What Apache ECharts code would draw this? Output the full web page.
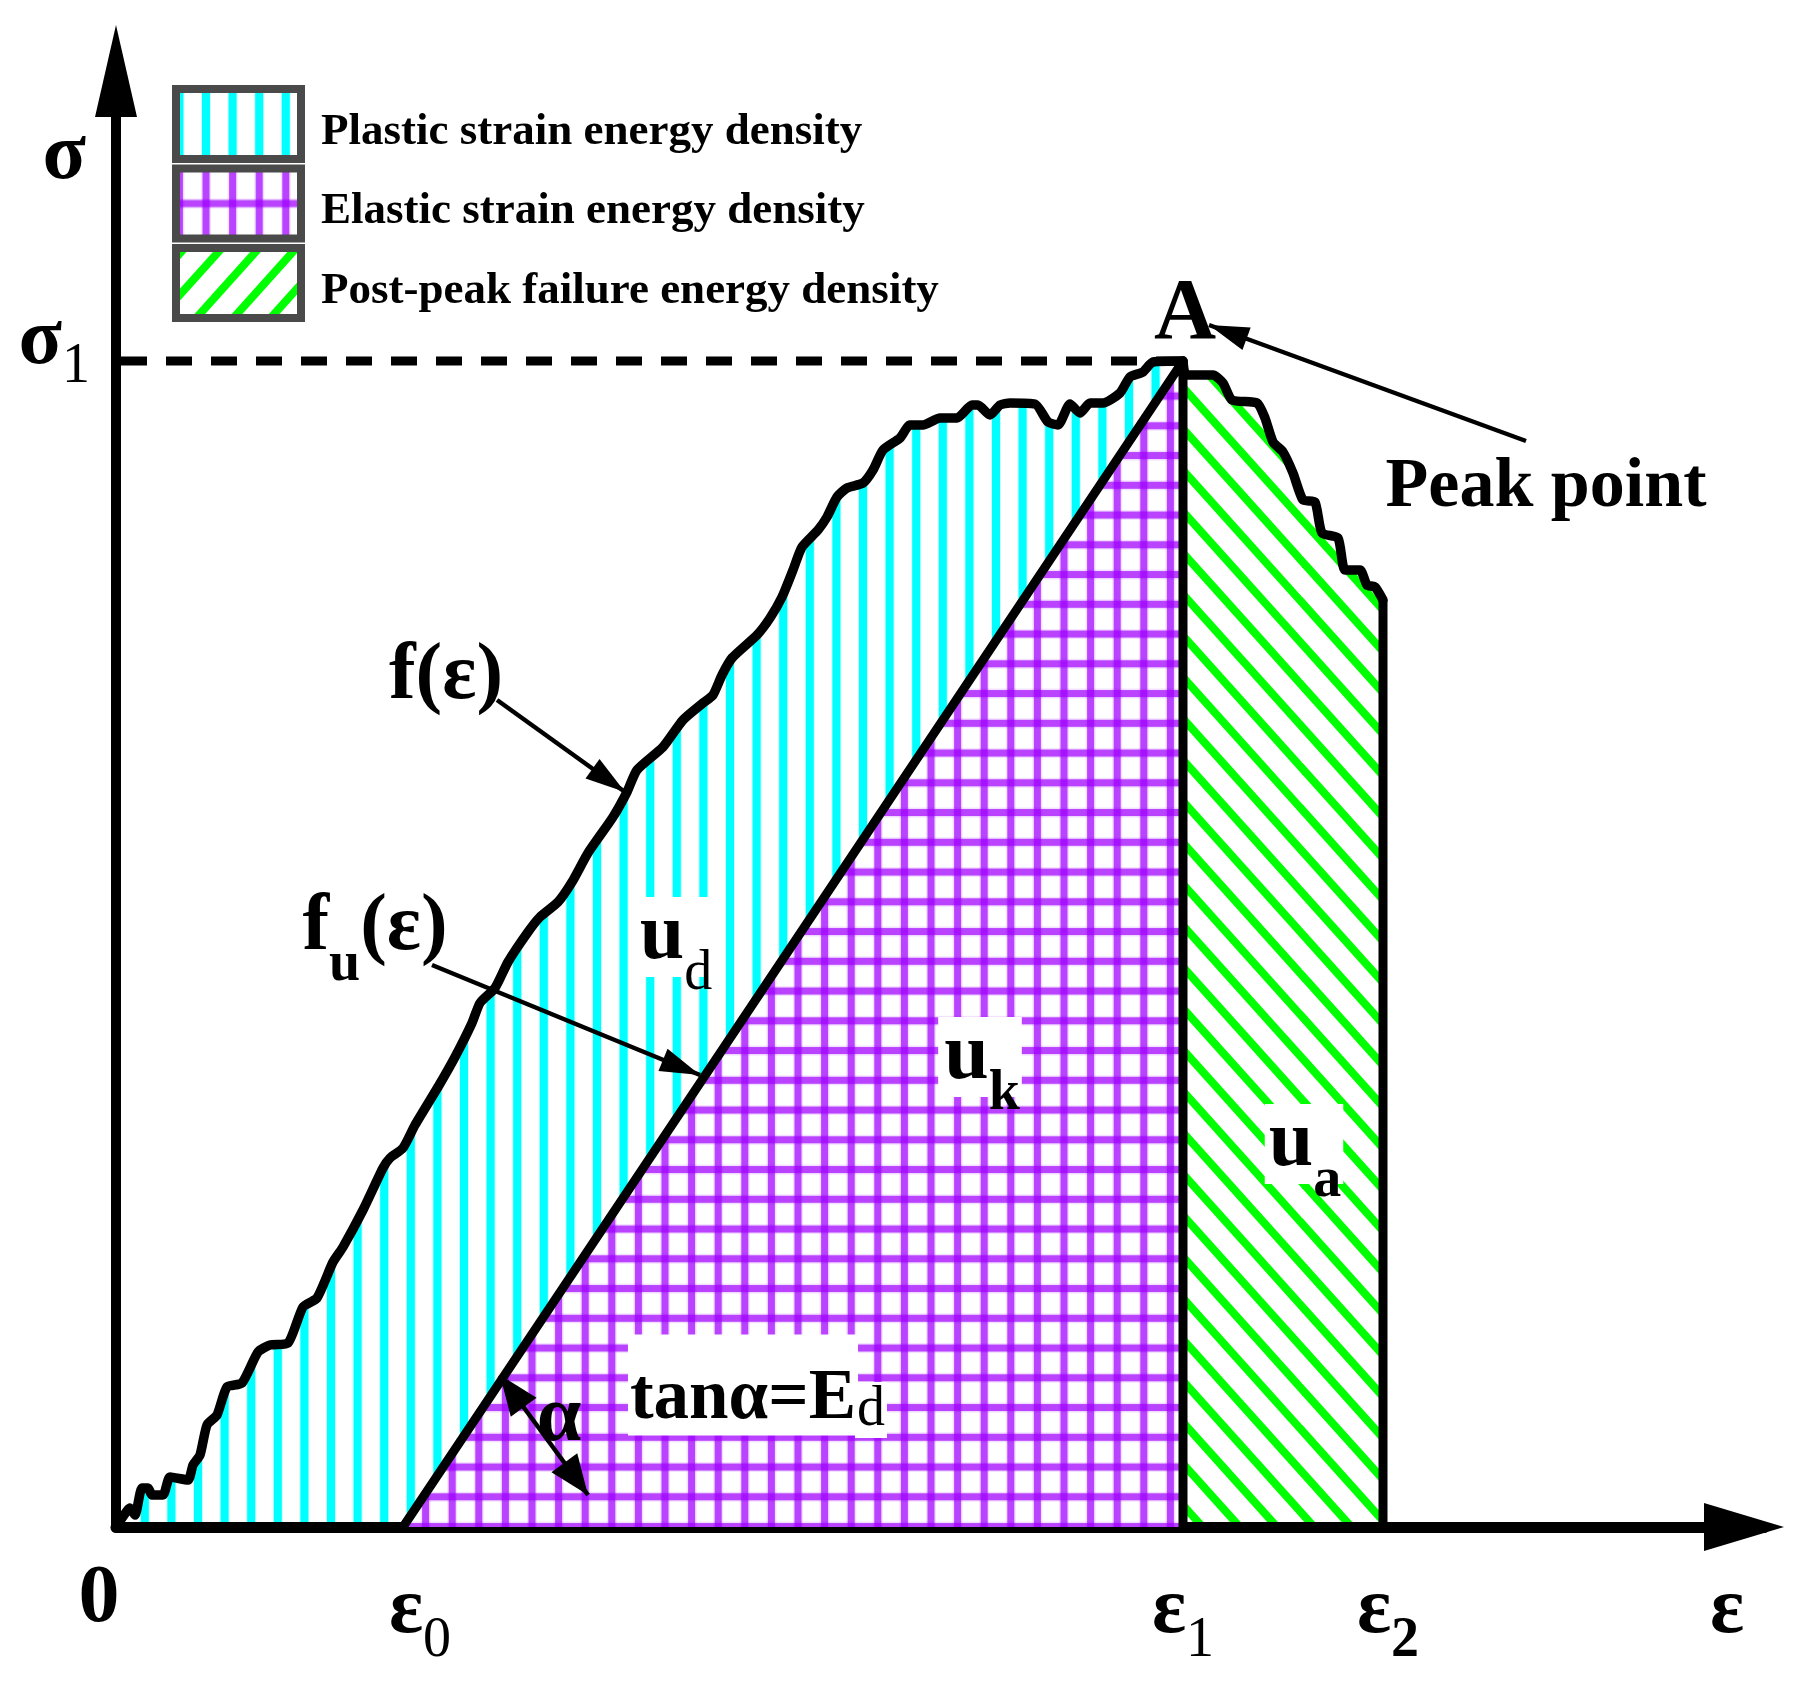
<!DOCTYPE html>
<html>
<head>
<meta charset="utf-8">
<style>html,body{margin:0;background:#fff}#main{width:1820px;height:1689px}</style>
<script src="https://cdn.jsdelivr.net/npm/echarts@6/dist/echarts.min.js"></script>
</head>
<body>
<div id="main"></div>
<script>
// pre-peak curve f(e)
var preStrain = [0, 6, 14, 19, 26, 32, 36, 47, 54, 72, 77, 84, 91, 101, 111, 126, 142, 154, 172, 187, 201, 217, 227, 247, 267, 274, 287, 299, 322, 339, 356, 364, 379, 392, 412, 424, 442, 456, 472, 497, 511, 521, 547, 567, 587, 597, 606, 616, 641, 654, 666, 677, 686, 702, 711, 721, 731, 747, 757, 767, 784, 794, 807, 824, 841, 856, 862, 874, 884, 894, 919, 932, 942, 954, 964, 974, 987, 1004, 1014, 1027, 1037, 1067];
var preStress = [0, 9, 19, 12, 39, 39, 32, 32, 50, 47, 62, 72, 102, 112, 140, 144, 175, 182, 184, 220, 229, 265, 280, 317, 359, 369, 379, 402, 440, 470, 504, 524, 539, 565, 595, 610, 625, 645, 674, 710, 735, 757, 780, 807, 824, 832, 852, 869, 892, 909, 930, 957, 980, 997, 1010, 1030, 1039, 1044, 1057, 1077, 1089, 1102, 1102, 1109, 1109, 1122, 1122, 1112, 1122, 1124, 1123, 1105, 1102, 1123, 1114, 1124, 1124, 1134, 1150, 1155, 1165, 1166];
// post-peak curve
var postStrain = [1067, 1070, 1097, 1107, 1116, 1141, 1149, 1157, 1167, 1177, 1187, 1199, 1206, 1222, 1229, 1244, 1251, 1259, 1267];
var postStress = [1166, 1152, 1152, 1144, 1127, 1124, 1109, 1085, 1075, 1054, 1027, 1025, 994, 989, 957, 957, 942, 940, 927];

var e0 = 287, e1 = 1067, e2 = 1267, eAxis = 1611;
var sigma1 = 1166, sigmaAxis = 1370;
var xTicks = [0, e0, e1, e2, eAxis];
var yTicks = [sigma1, sigmaAxis];
var legendNames = ['Plastic strain energy density', 'Elastic strain energy density', 'Post-peak failure energy density'];

// [from x, from y, to x, to y, head at both ends]
var arrowList = [
  [381, 827, 509, 735, 0],
  [316, 562, 584, 452, 0],
  [1410, 1086, 1093, 1202, 0],
  [384, 152, 472, 32, 1]
];

var FONT = '"Liberation Serif", serif';

function zip(xs, ys) {
  return xs.map(function (x, i) { return [x, ys[i]]; });
}

var prePoints = zip(preStrain, preStress);
var postPoints = zip(postStrain, postStress);
var plasticRegion = prePoints.concat([[e0, 0]]);
var elasticRegion = [[e0, 0], [e1, sigma1], [e1, 0]];
var failureRegion = postPoints.concat([[e2, 0], [e1, 0]]);

function tile(w, h, draw) {
  var c = document.createElement('canvas');
  c.width = w;
  c.height = h;
  var ctx = c.getContext('2d');
  ctx.fillStyle = '#fff';
  ctx.fillRect(0, 0, w, h);
  draw(ctx, w, h);
  return { image: c, repeat: 'repeat' };
}

function cyanTile(phase) {
  return tile(133, 4, function (ctx, w, h) {
    for (var k = -1; k < 6; k++) {
      var x = phase + 26.6 * k;
      ctx.fillStyle = 'rgba(0,255,255,0.2)';
      ctx.fillRect(x - 5, 0, 10, h);
      ctx.fillStyle = '#00ffff';
      ctx.fillRect(x - 4, 0, 8, h);
    }
  });
}

function purpleTile(phaseX, phaseY, periodY, rows) {
  return tile(133, Math.round(periodY * rows), function (ctx, w, h) {
    var k;
    for (k = -1; k < 6; k++) {
      ctx.fillStyle = 'rgba(160,0,255,0.12)';
      ctx.fillRect(phaseX + 26.6 * k - 5, 0, 10, h);
      ctx.fillStyle = 'rgba(160,0,255,0.7)';
      ctx.fillRect(phaseX + 26.6 * k - 3.5, 0, 7, h);
    }
    for (k = -1; k <= rows; k++) {
      ctx.fillStyle = 'rgba(160,0,255,0.12)';
      ctx.fillRect(0, phaseY + periodY * k - 5, w, 10);
      ctx.fillStyle = 'rgba(160,0,255,0.7)';
      ctx.fillRect(0, phaseY + periodY * k - 3.5, w, 7);
    }
  });
}

function greenTile(c, dir) {
  return tile(186, 207, function (ctx) {
    ctx.strokeStyle = '#00ff00';
    ctx.lineWidth = 8;
    for (var j = -12; j <= 12; j++) {
      ctx.beginPath();
      ctx.moveTo(-40, c + 41.4 * j - dir * 1.113 * 40);
      ctx.lineTo(226, c + 41.4 * j + dir * 1.113 * 226);
      ctx.stroke();
    }
  });
}

function regionItem(points, fill) {
  return function (params, api) {
    if (params.dataIndex !== 0) { return null; }
    return {
      type: 'polygon',
      shape: { points: points.map(function (p) { return api.coord(p); }) },
      style: { fill: fill }
    };
  };
}

function headShape(tip, from, len, half) {
  var dx = tip[0] - from[0];
  var dy = tip[1] - from[1];
  var d = Math.sqrt(dx * dx + dy * dy);
  var ux = dx / d;
  var uy = dy / d;
  var bx = tip[0] - ux * len;
  var by = tip[1] - uy * len;
  return [tip, [bx - uy * half, by + ux * half], [bx + uy * half, by - ux * half]];
}

function arrowItem(params, api) {
  var a = api.coord([api.value(0), api.value(1)]);
  var b = api.coord([api.value(2), api.value(3)]);
  var both = api.value(4);
  var half = both ? 16 : 12;
  var kids = [
    { type: 'line', shape: { x1: a[0], y1: a[1], x2: b[0], y2: b[1] }, style: { stroke: '#000', lineWidth: 4.5 } },
    { type: 'polygon', shape: { points: headShape(b, a, 40, half) }, style: { fill: '#000' } }
  ];
  if (both) {
    kids.push({ type: 'polygon', shape: { points: headShape(a, b, 40, half) }, style: { fill: '#000' } });
  }
  return { type: 'group', children: kids };
}

var richText = {
  b: { fontFamily: FONT, fontWeight: 'bold', fontSize: 80, lineHeight: 80, color: '#000' },
  c: { fontFamily: FONT, fontWeight: 'bold', fontSize: 71, lineHeight: 71, color: '#000' },
  d: { fontFamily: FONT, fontSize: 56, lineHeight: 56, color: '#000' },
  s: { fontFamily: FONT, fontSize: 56, lineHeight: 56, padding: [75, 0, 0, 0], color: '#000' },
  sb: { fontFamily: FONT, fontWeight: 'bold', fontSize: 56, lineHeight: 56, padding: [75, 0, 0, 0], color: '#000' },
  // axis-only variants: sigma sits above its tick, bare epsilon matches the subscripted rows
  ys: { fontFamily: FONT, fontWeight: 'bold', fontSize: 80, lineHeight: 80, padding: [0, 4, 0, 0], color: '#000' },
  yb: { fontFamily: FONT, fontWeight: 'bold', fontSize: 80, lineHeight: 80, padding: [0, 0, 38, 0], color: '#000' },
  y1: { fontFamily: FONT, fontSize: 56, lineHeight: 56, padding: [12, 0, 0, 0], color: '#000' },
  x: { fontFamily: FONT, fontSize: 56, lineHeight: 56, padding: [61, 0, 0, 0], color: '#000' },
  xb: { fontFamily: FONT, fontWeight: 'bold', fontSize: 56, lineHeight: 56, padding: [61, 0, 0, 0], color: '#000' },
  e: { fontFamily: FONT, fontWeight: 'bold', fontSize: 80, lineHeight: 80, padding: [18.5, 0, 18.5, 0], color: '#000' }
};

function note(x, y, text, boxed, size) {
  var item = {
    value: [x, y],
    label: { formatter: text }
  };
  if (boxed) {
    item.label.backgroundColor = '#fff';
    item.label.padding = boxed;
  }
  if (size) {
    item.label.fontFamily = FONT;
    item.label.fontWeight = 'bold';
    item.label.fontSize = size;
    item.label.color = '#000';
  }
  return item;
}

var notes = [
  note(1069, 1211, 'A', null, 86),
  note(1430, 1039, 'Peak point', null, 70),
  note(330, 850, '{b|f(ε)}'),
  note(259, 599, '{b|f}{sb|u}{b|(ε)}'),
  note(558, 590, '{b|u}{s|d}', [0, 2, 0, 6]),
  note(864, 470, '{b|u}{sb|k}', [0, 2, 0, 6]),
  note(1188, 383, '{b|u}{sb|a}', [0, 2, 0, 4]),
  note(627, 142, '{c|tanα=E}', [30, 2, 0, 2]),
  note(755, 117, '{d|d}', [0, 2, 0, 2]),
  note(443, 108, '{b|α}')
];

var chart = echarts.init(document.getElementById('main'));

chart.setOption({
  animation: false,
  backgroundColor: '#fff',
  grid: { left: 116, right: 56, top: 60, bottom: 162 },
  legend: {
    left: 172,
    top: 85,
    orient: 'vertical',
    padding: 0,
    itemWidth: 125,
    itemHeight: 70,
    itemGap: 1.5,
    selectedMode: false,
    icon: 'rect',
    itemStyle: { borderColor: '#4a4a4a', borderWidth: 8 },
    formatter: function (name) { return '{l|' + name + '}'; },
    textStyle: {
      rich: {
        l: { fontFamily: FONT, fontWeight: 'bold', fontSize: 45, lineHeight: 40, color: '#000', padding: [16, 0, 0, 15] }
      }
    },
    data: [
      { name: legendNames[0], itemStyle: { color: cyanTile(3.4) } },
      { name: legendNames[1], itemStyle: { color: purpleTile(3.4, 35, 70, 1) } },
      { name: legendNames[2], itemStyle: { color: greenTile(9.7, -1) } }
    ]
  },
  xAxis: {
    type: 'value',
    min: 0,
    max: 1648,
    z: 2,
    splitLine: { show: false },
    axisTick: { show: false },
    axisLine: {
      onZero: false,
      symbol: ['none', 'triangle'],
      symbolSize: [48, 80],
      symbolOffset: [0, -20],
      lineStyle: { color: '#000', width: 11 }
    },
    axisLabel: {
      customValues: xTicks,
      margin: 44,
      formatter: function (v) {
        if (v === 0) { return '{z|0}'; }
        if (v === e0) { return '{p|ε}{x|0}'; }
        if (v === e1) { return '{b|ε}{x|1}'; }
        if (v === e2) { return '{q|ε}{xb|2}'; }
        return '{e|ε}';
      },
      rich: Object.assign({
        z: { fontFamily: FONT, fontWeight: 'bold', fontSize: 82, lineHeight: 58, padding: [0, 34, 0, 0], color: '#000' },
        p: Object.assign({}, richText.b, { padding: [0, 0, 0, 34] }),
        q: Object.assign({}, richText.b, { padding: [0, 0, 0, 10] })
      }, richText)
    }
  },
  yAxis: {
    type: 'value',
    min: 0,
    max: 1467,
    z: 2,
    splitLine: { show: false },
    axisTick: { show: false },
    axisLine: {
      onZero: false,
      symbol: ['none', 'triangle'],
      symbolSize: [42, 92],
      symbolOffset: [0, -11],
      lineStyle: { color: '#000', width: 10 }
    },
    axisLabel: {
      customValues: yTicks,
      margin: 26,
      formatter: function (v) {
        return v === sigma1 ? '{yb|σ}{y1|1}' : '{ys|σ}';
      },
      rich: richText
    }
  },
  series: [
    {
      name: legendNames[0], type: 'custom', z: 1, silent: true,
      data: plasticRegion, encode: { x: 0, y: 1 },
      itemStyle: { color: cyanTile(11.8) },
      renderItem: regionItem(plasticRegion, cyanTile(11.8))
    },
    {
      name: legendNames[1], type: 'custom', z: 3, silent: true,
      data: elasticRegion, encode: { x: 0, y: 1 },
      itemStyle: { color: purpleTile(0, 9.3, 29.75, 4) },
      renderItem: regionItem(elasticRegion, purpleTile(0, 9.3, 29.75, 4))
    },
    {
      name: legendNames[2], type: 'custom', z: 1, silent: true,
      data: failureRegion, encode: { x: 0, y: 1 },
      itemStyle: { color: greenTile(23, 1) },
      renderItem: regionItem(failureRegion, greenTile(23, 1))
    },
    {
      name: 'sigma1', type: 'line', z: 4, silent: true, symbol: 'none',
      data: [[5, sigma1], [e1, sigma1]],
      lineStyle: { color: '#000', width: 9, type: [26, 19] }
    },
    {
      name: 'f', type: 'line', z: 4, silent: true, symbol: 'none', smooth: 0.2,
      data: prePoints,
      lineStyle: { color: '#000', width: 9.5, join: 'round', cap: 'round' }
    },
    {
      name: 'fPost', type: 'line', z: 4, silent: true, symbol: 'none', smooth: 0.2,
      data: postPoints,
      lineStyle: { color: '#000', width: 9.5, join: 'round', cap: 'round' }
    },
    {
      name: 'fu', type: 'line', z: 4, silent: true, symbol: 'none',
      data: elasticRegion,
      lineStyle: { color: '#000', width: 9, join: 'round' }
    },
    {
      name: 'fEnd', type: 'line', z: 4, silent: true, symbol: 'none',
      data: [[e2, postStress[postStress.length - 1]], [e2, 0]],
      lineStyle: { color: '#000', width: 9 }
    },
    {
      name: 'arrows', type: 'custom', z: 5, silent: true,
      data: arrowList, encode: { x: [0, 2], y: [1, 3] },
      renderItem: arrowItem
    },
    {
      name: 'notes', type: 'scatter', z: 6, silent: true,
      symbolSize: 1,
      itemStyle: { color: 'rgba(0,0,0,0)', opacity: 1 },
      label: { show: true, position: 'inside', color: '#000', rich: richText },
      data: notes
    }
  ]
});
</script>
</body>
</html>
